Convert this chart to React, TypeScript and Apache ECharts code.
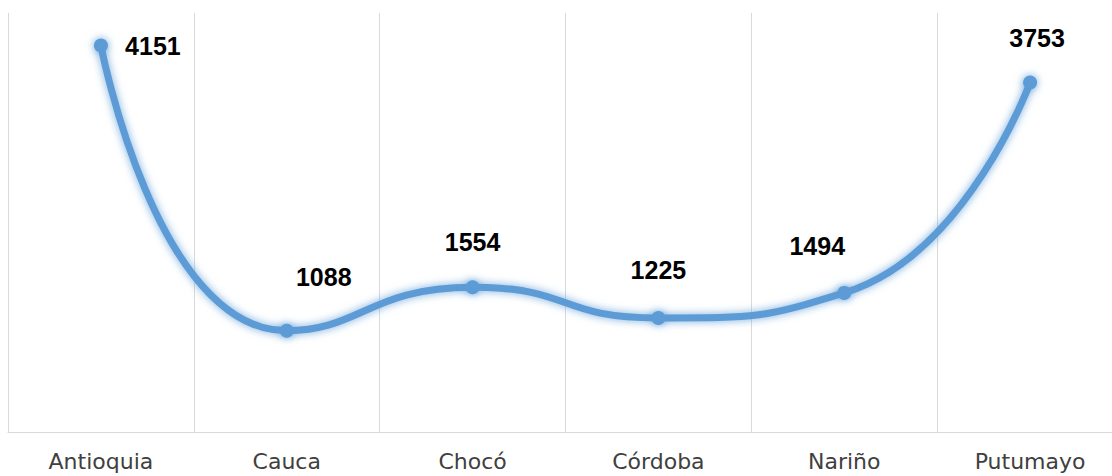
import React, { useEffect, useRef } from "react";
import * as echarts from "echarts";

const categories = ["Antioquia", "Cauca", "Chocó", "Córdoba", "Nariño", "Putumayo"];
const values = [4151, 1088, 1554, 1225, 1494, 3753];
const labelOffsets: [number, number][] = [
  [52, 1],
  [37, -54],
  [0, -45],
  [0, -48],
  [-27, -47],
  [7, -45],
];

export default function App() {
  const ref = useRef<HTMLDivElement>(null);
  useEffect(() => {
    if (!ref.current) return;
    const chart = echarts.init(ref.current, undefined, { renderer: "svg" });
    chart.setOption({
      animation: false,
      backgroundColor: "#ffffff",
      grid: { left: 8, right: 0, top: 13, bottom: 44 },
      xAxis: {
        type: "category",
        data: categories,
        boundaryGap: true,
        axisLine: { show: true, lineStyle: { color: "#d9d9d9", width: 1 } },
        axisTick: { show: false },
        splitLine: { show: true, lineStyle: { color: "#d9d9d9", width: 1 } },
        axisLabel: {
          color: "#404040",
          fontFamily: "DejaVu Sans",
          fontSize: 22,
          margin: 18,
        },
      },
      yAxis: {
        type: "value",
        min: 0,
        max: 4500,
        show: false,
        splitLine: { show: false },
      },
      series: [
        {
          type: "line",
          smooth: 0.55,
          data: values.map((v, i) => ({
            value: v,
            label: {
              show: true,
              position: "inside",
              offset: labelOffsets[i],
              formatter: String(v),
              color: "#000000",
              fontFamily: "Liberation Sans",
              fontWeight: "bold",
              fontSize: 25,
            },
          })),
          symbol: "circle",
          symbolSize: 14,
          lineStyle: {
            color: "#5b9bd5",
            width: 7,
            shadowBlur: 9,
            shadowColor: "rgba(91,155,213,0.85)",
          },
          itemStyle: {
            color: "#5b9bd5",
            shadowBlur: 9,
            shadowColor: "rgba(91,155,213,0.85)",
          },
        },
      ],
    });
    return () => chart.dispose();
  }, []);
  return (
    <div
      ref={ref}
      style={{ position: "fixed", left: 0, top: 0, width: 1123, height: 476 }}
    />
  );
}
